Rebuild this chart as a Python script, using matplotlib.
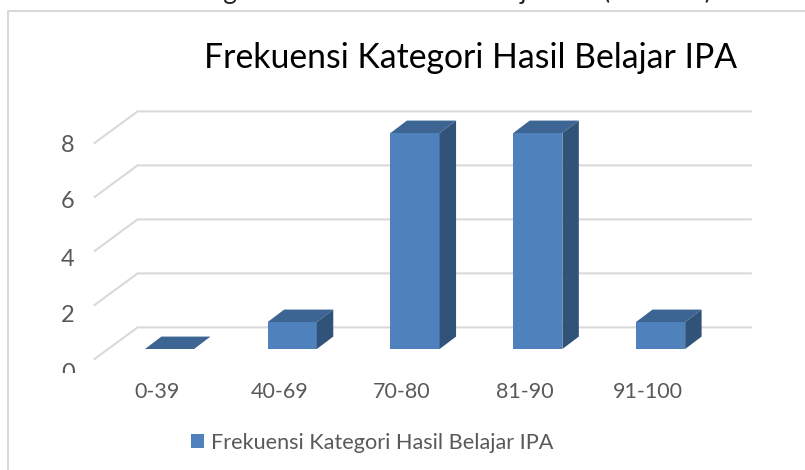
"""Frekuensi kategori hasil belajar IPA: batang semu 3D seperti grafik Excel."""

import matplotlib

matplotlib.use("Agg")
import matplotlib.pyplot as plt
from matplotlib.patches import Polygon, Rectangle

W, H = 805, 470

CATEGORIES = ["0-39", "40-69", "70-80", "81-90", "91-100"]
VALUES = [0, 1, 8, 8, 1]
Y_TICKS = [0, 2, 4, 6, 8]
SERIES = "Frekuensi Kategori Hasil Belajar IPA"

FRONT = "#4f81bd"
TOP = "#3d6594"
SIDE = "#325379"
GRID = "#d9d9d9"
TEXT = "#595959"

# kedalaman semu, dalam satuan data
BAR_W = 0.40
DEPTH_X, DEPTH_Y = 0.134, 0.46
WALL_X0, WALL_X1 = -0.61, 4.735
WALL_BACK_X = -0.26
FLOOR_FRONT, FLOOR_BACK = -0.37, 0.80
LABEL_SHIFT = 0.105  # label kategori sedikit ke kiri dari batang

plt.rcParams["font.family"] = ["Lato", "DejaVu Sans"]

fig = plt.figure(figsize=(W / 100, H / 100), dpi=100)


def rect(left, top, right, bottom):
    return [left / W, 1 - bottom / H, (right - left) / W, (bottom - top) / H]


ax = fig.add_axes(rect(108.1, 133, 722, 349))
ax.set_xlim(-0.5, 4.5)
ax.set_ylim(0, 8)
ax.patch.set_visible(False)
for s in ax.spines.values():
    s.set_visible(False)

# dinding belakang dan diagonal kisi
for v in Y_TICKS:
    ax.plot([WALL_X0, WALL_BACK_X, WALL_X1],
            [v + FLOOR_FRONT, v + FLOOR_BACK, v + FLOOR_BACK],
            color=GRID, lw=1.5, clip_on=False, zorder=1)

# batang
front = ax.bar(range(len(CATEGORIES)), VALUES, width=BAR_W, color=FRONT, zorder=3,
               label=SERIES)
for i, v in enumerate(VALUES):
    x0, x1 = i - BAR_W / 2, i + BAR_W / 2
    ax.add_patch(Polygon([(x0, v), (x1, v), (x1 + DEPTH_X, v + DEPTH_Y), (x0 + DEPTH_X, v + DEPTH_Y)],
                         color=TOP, lw=0, zorder=3, clip_on=False))
    if v > 0:
        ax.add_patch(Polygon([(x1, 0), (x1 + DEPTH_X, DEPTH_Y), (x1 + DEPTH_X, v + DEPTH_Y), (x1, v)],
                             color=SIDE, lw=0, zorder=3, clip_on=False))

ax.set_xticks([i - LABEL_SHIFT for i in range(len(CATEGORIES))], CATEGORIES)
ax.set_yticks([])
ax.tick_params(axis="x", length=0, pad=24, labelsize=15.5, labelcolor=TEXT)

# label sumbu Y memakai skala sendiri (jaraknya sedikit beda dari kisi)
ay = fig.add_axes(rect(94, 143, 95, 371))
ay.patch.set_visible(False)
ay.set_ylim(0, 8)
ay.set_xticks([])
ay.set_yticks(Y_TICKS)
for s in ay.spines.values():
    s.set_visible(False)
ay.tick_params(axis="y", length=0, pad=14, labelsize=17, labelcolor=TEXT)

# label 0 terpotong di bagian bawah
fig.add_artist(Rectangle((50 / W, 1 - 384 / H), 40 / W, 11.5 / H, color="white", lw=0, zorder=5))

# bingkai bagan, terbuka di kanan dan bawah gambar
fig.add_artist(plt.Line2D([8 / W, 8 / W, 1], [0, 1 - 10.5 / H, 1 - 10.5 / H], color=GRID, lw=1.5))

fig.text(471 / W, 1 - 58 / H, SERIES, fontsize=24.3, color="black", ha="center", va="center")
fig.text(377 / W, 1 + 1 / H, "Gambar 4.2 Diagram Frekuensi Hasil Belajar IPA (Posttest)",
         fontsize=18.8, color="#222222", ha="center", va="baseline")

fig.legend(handles=[front], loc="center", bbox_to_anchor=(372 / W, 1 - 443 / H), frameon=False,
           fontsize=15.6, labelcolor=TEXT, handlelength=0.6, handleheight=0.6, handletextpad=0.35)

fig.savefig("out.png", dpi=100)
